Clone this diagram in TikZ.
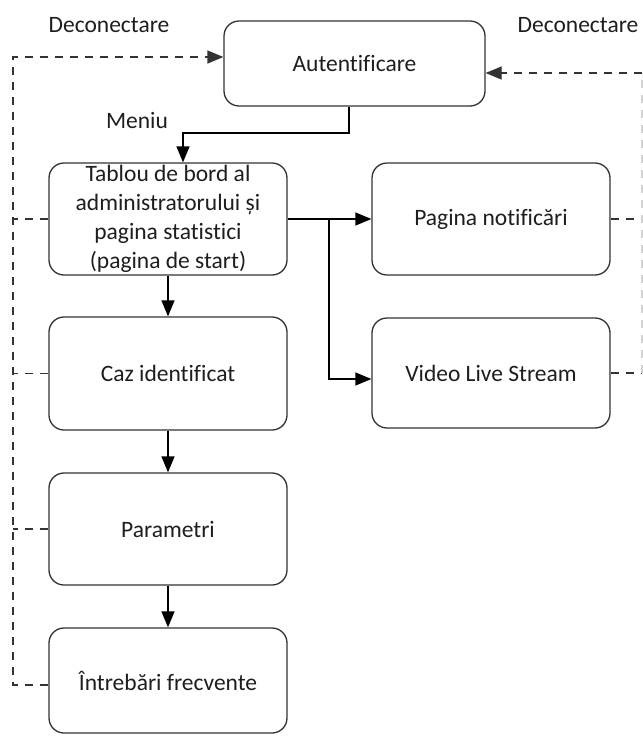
\documentclass[tikz,border=0pt]{standalone}
\usepackage{fontspec}
\setmainfont{Carlito}[Ligatures=NoCommon]
\usetikzlibrary{arrows.meta}
\definecolor{ink}{HTML}{1E1E1E}
\definecolor{edge}{HTML}{333333}
\begin{document}
\begin{tikzpicture}[x=1pt,y=-1pt,
  box/.style={draw=edge, line width=1.3pt, rounded corners=15pt, align=center,
    text=ink, font=\fontsize{23.5}{29}\selectfont, inner sep=0pt},
  lbl/.style={text=ink, font=\fontsize{23.5}{29}\selectfont, anchor=base, inner sep=0pt},
  arr/.style={draw=black, line width=1.3pt, -{Triangle[length=16pt,width=13pt]}},
  dsh/.style={draw=edge, line width=1.3pt, dash pattern=on 8pt off 7pt},
  darr/.style={dsh, -{Triangle[length=16pt,width=13pt]}}]
\useasboundingbox (0,0) rectangle (643,737);
\fill[white] (0,0) rectangle (643,737);

\node[box, minimum width=261pt, minimum height=85pt] (aut) at (354.5,63.5) {Autentificare};
\node[box, minimum width=238pt, minimum height=112pt] (tab) at (168,219)
  {Tablou de bord al\\administratorului și\\pagina statistici\\(pagina de start)};
\node[box, minimum width=238pt, minimum height=113pt] (caz) at (168,373.5) {Caz identificat};
\node[box, minimum width=238pt, minimum height=112pt] (par) at (168,529) {Parametri};
\node[box, minimum width=238pt, minimum height=105pt] (intr) at (168,680.5) {Întrebări frecvente};
\node[box, minimum width=238pt, minimum height=112pt] (pag) at (491,219) {Pagina notificări};
\node[box, minimum width=238pt, minimum height=110pt] (vid) at (491,373) {Video Live Stream};

\node[lbl] (dl) at (109,32) {Deconectare};
\node[lbl] (dr) at (578,32) {Deconectare};
\node[lbl] (men) at (137,128) {Meniu};

% Meniu connector
\coordinate (mk) at (183,133);
\draw[arr] ([xshift=-5.5pt]aut.south) |- (mk) -- (mk |- tab.north);

% vertical flow
\draw[arr] (tab.south) -- (caz.north);
\draw[arr] (caz.south) -- (par.north);
\draw[arr] (par.south) -- (intr.north);

% branch to the right
\coordinate (br) at (329,219);
\draw[arr] (tab.east) -- (pag.west);
\draw[arr] (br) |- ([yshift=-6pt]vid.west);

% left logout line
\coordinate (lb) at (13,685);
\coordinate (lt) at (13,57);
\draw[darr] ([yshift=-4.5pt]intr.west) -- (lb) -- (lt) -- (lt -| aut.west);
\draw[dsh] (tab.west) -- (tab.west -| lb);
\draw[dsh] (caz.west) -- (caz.west -| lb);
\draw[dsh] (par.west) -- (par.west -| lb);

% right logout line
\coordinate (rt) at (642,73);
\coordinate (rb) at (642,373);
\draw[dsh] (pag.east) -- (pag.east -| rt);
\draw[dsh] (vid.east) -- (rb);
\draw[dsh, draw=gray!35] (rb) -- (rt);
\draw[darr] (rt) -- (rt -| aut.east);
\end{tikzpicture}
\end{document}
